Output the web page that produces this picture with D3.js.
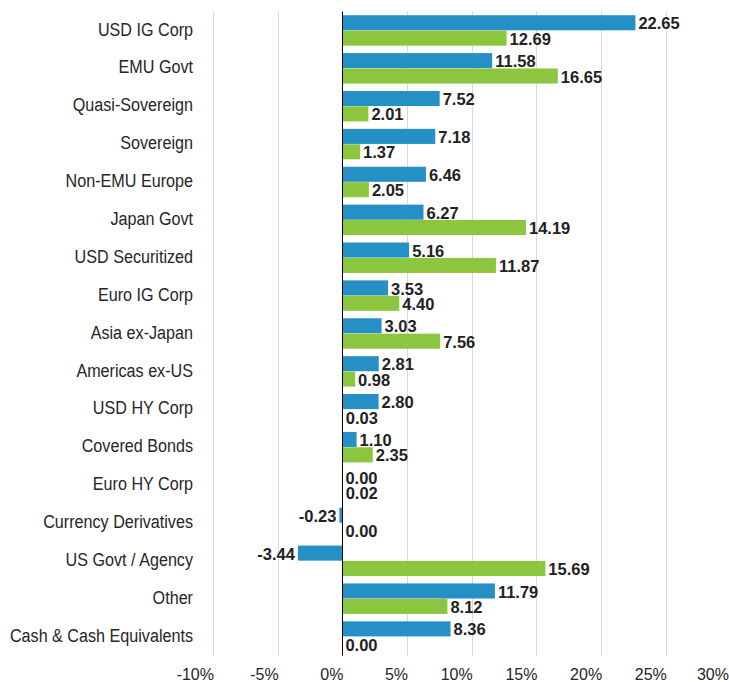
<!DOCTYPE html>
<html>
<head>
<meta charset="utf-8">
<script src="https://cdn.jsdelivr.net/npm/d3@7"></script>
<style>
  body { margin: 0; background: #fff; }
  svg text { font-family: "Liberation Sans", Arial, sans-serif; }
</style>
</head>
<body>
<svg id="chart" width="729" height="682"></svg>
<script>
// categories, top to bottom
var categories = ["USD IG Corp", "EMU Govt", "Quasi-Sovereign", "Sovereign", "Non-EMU Europe",
    "Japan Govt", "USD Securitized", "Euro IG Corp", "Asia ex-Japan", "Americas ex-US",
    "USD HY Corp", "Covered Bonds", "Euro HY Corp", "Currency Derivatives", "US Govt / Agency",
    "Other", "Cash & Cash Equivalents"];
var blueValues = [22.65, 11.58, 7.52, 7.18, 6.46, 6.27, 5.16, 3.53, 3.03, 2.81, 2.80, 1.10, 0.00, -0.23, -3.44, 11.79, 8.36];
var greenValues = [12.69, 16.65, 2.01, 1.37, 2.05, 14.19, 11.87, 4.40, 7.56, 0.98, 0.03, 2.35, 0.02, 0.00, 15.69, 8.12, 0.00];
var xTicks = [-10, -5, 0, 5, 10, 15, 20, 25, 30];

var series = [
    { key: "blue", values: blueValues, color: "#2490c6" },
    { key: "green", values: greenValues, color: "#8cc63f" }
];

var svg = d3.select("#chart");
var plotTop = 11.5, plotBottom = 655.5;

var x = d3.scaleLinear().domain([-10, 30]).range([213, 730.5]);
var y = d3.scaleBand().domain(categories).range([plotTop, plotBottom]).paddingInner(0.18).paddingOuter(0.09);
var y1 = d3.scaleBand().domain(series.map(s => s.key)).range([0, y.bandwidth()]).padding(0.02);

// gridlines
svg.append("g").selectAll("line")
    .data(xTicks.filter(t => t !== 0))
    .enter().append("line")
    .attr("x1", d => Math.round(x(d)) + 0.5)
    .attr("x2", d => Math.round(x(d)) + 0.5)
    .attr("y1", plotTop)
    .attr("y2", plotBottom)
    .attr("stroke", "#d9d9d9")
    .attr("stroke-width", 1);

// tick labels (right edge sits on the gridline)
svg.append("g").selectAll("text")
    .data(xTicks)
    .enter().append("text")
    .attr("x", d => Math.min(x(d) + 1, 729))
    .attr("y", 680)
    .attr("text-anchor", "end")
    .attr("font-size", 16)
    .attr("fill", "#262626")
    .text(d => d + "%");

// category labels, squeezed to look like a narrow face
svg.append("g").selectAll("text")
    .data(categories)
    .enter().append("text")
    .attr("transform", d => "translate(193," + (y(d) + y.bandwidth() / 2 - 1.5) + ") scale(0.85,1)")
    .attr("dy", "0.35em")
    .attr("text-anchor", "end")
    .attr("font-size", 19)
    .attr("fill", "#262626")
    .text(d => d);

// bars + labels
series.forEach(function (s) {
    var g = svg.append("g");
    g.selectAll("rect")
        .data(s.values)
        .enter().append("rect")
        .attr("x", d => x(Math.min(0, d)))
        .attr("y", (d, i) => y(categories[i]) + y1(s.key))
        .attr("width", d => Math.abs(x(d) - x(0)))
        .attr("height", y1.bandwidth())
        .attr("fill", s.color);

    g.selectAll("text")
        .data(s.values)
        .enter().append("text")
        .attr("x", d => d < 0 ? x(d) - 3 : x(d) + 3)
        .attr("y", (d, i) => y(categories[i]) + y1(s.key) + y1.bandwidth() / 2)
        .attr("dy", "0.4em")
        .attr("text-anchor", d => d < 0 ? "end" : "start")
        .attr("font-size", 16.5)
        .attr("font-weight", "bold")
        .attr("fill", "#222")
        .text(d => d.toFixed(2));
});

// zero line
svg.append("line")
    .attr("x1", Math.round(x(0)) + 0.5)
    .attr("x2", Math.round(x(0)) + 0.5)
    .attr("y1", plotTop)
    .attr("y2", plotBottom)
    .attr("stroke", "#000")
    .attr("stroke-width", 1);
</script>
</body>
</html>
